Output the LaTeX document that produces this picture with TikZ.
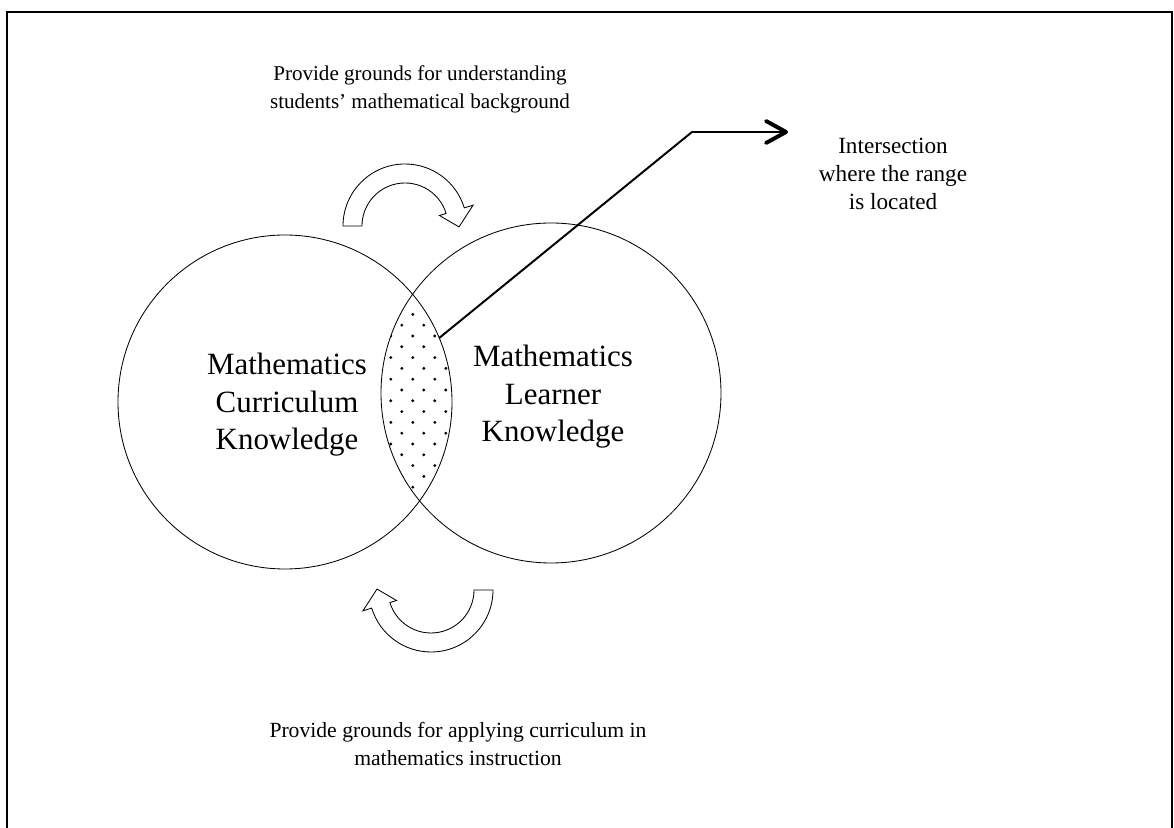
\documentclass[tikz,border=0pt]{standalone}
\usepackage{fontspec}
\setmainfont{Liberation Serif}
\usetikzlibrary{arrows.meta}
\begin{document}
\begin{tikzpicture}[ring/.style={draw=black,line width=0.6pt},
  turn/.style={draw=black,fill=white,line width=0.6pt},
  small/.style={align=center,font=\fontsize{15}{20}\selectfont},
  big/.style={align=center,font=\fontsize{22}{26.7}\selectfont},
  turnarrow/.pic={\path[turn] (180:1.55) arc (180:17:1.55) -- (17:1.78) -- (-1:1.35) -- (17:0.9) -- (17:1.075) arc (17:180:1.075) -- cycle;}]
\useasboundingbox (0,0) rectangle (29.35,20.7);
\draw[line width=1.4pt] (0.175,0) -- (0.175,20.4) -- (29.3,20.4) -- (29.3,0);
\begin{scope}
\clip (7.125,10.65) circle (4.175);
\clip (13.775,10.875) circle (4.25);
\foreach \j in {0,...,22}
  \foreach \k in {0,...,4}
    \fill ({9.495+0.55*\k+0.275*mod(\j,2)},{13.65-0.27*\j}) circle (0.04);
\end{scope}
\draw[ring] (7.125,10.65) circle (4.175);
\draw[ring] (13.775,10.875) circle (4.25);
\pic at (10.125,15.05) {turnarrow};
\pic[rotate=180] at (10.775,5.95) {turnarrow};
\node[small] (topnote) at (10.5,18.475) {Provide grounds for understanding\\students' mathematical background};
\node[big] (curric) at (7.175,10.575) {Mathematics\\Curriculum\\Knowledge};
\node[big] (learner) at (13.825,10.775) {Mathematics\\Learner\\Knowledge};
\node[small,font=\fontsize{16.5}{20}\selectfont] (range) at (22.325,16.35) {Intersection\\where the range\\is located};
\node[small,font=\fontsize{15.4}{20}\selectfont] (bottomnote) at (11.45,2.1) {Provide grounds for applying curriculum in\\mathematics instruction};
\coordinate (lens) at (10.98,12.25);
\coordinate (bend) at (17.3,17.4);
\coordinate (tip) at (19.7,17.4);
\draw[line width=1.4pt,-{Straight Barb[length=5mm,width=5.5mm,line width=2.8pt,round]}] (lens) -- (bend) -- (tip);
\end{tikzpicture}
\end{document}
